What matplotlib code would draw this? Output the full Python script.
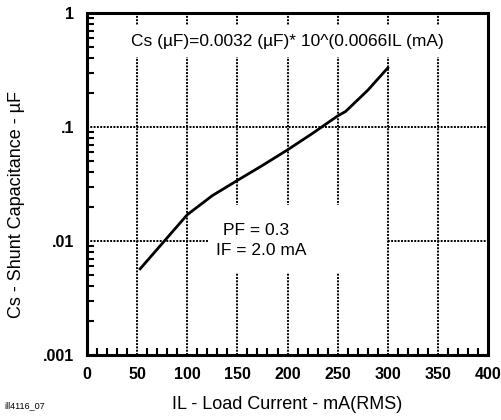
import numpy as np
import matplotlib
matplotlib.use("Agg")
import matplotlib.pyplot as plt
from matplotlib.patches import Rectangle
from matplotlib.ticker import FixedLocator, MultipleLocator, LogLocator, NullFormatter

plt.rcParams['font.family'] = ['Liberation Sans', 'DejaVu Sans']

# curve
load_ma = [53, 100, 125, 150, 175, 200, 225, 250, 258, 280, 300]
cs_uf = [0.0057, 0.017, 0.025, 0.034, 0.046, 0.063, 0.088, 0.125, 0.137, 0.21, 0.33]

x_ticks = [0, 50, 100, 150, 200, 250, 300, 350, 400]
y_ticks = [0.001, 0.01, 0.1, 1]
y_labels = [".001", ".01", ".1", "1"]

fig = plt.figure(figsize=(5.02, 4.2), dpi=100)
ax = fig.add_axes([0.1733, 0.1548, 0.799, 0.8143])

ax.set_yscale('log')
ax.set_xlim(0, 400)
ax.set_ylim(0.001, 1)

ax.grid(True, which='major', color='black', linestyle=(0, (1, 0.7)), linewidth=1.4)
ax.set_axisbelow(True)

# white masks behind the annotations, as in the original
ax.add_patch(Rectangle((0.10, 0.87), 0.78, 0.095, transform=ax.transAxes,
                       facecolor='white', edgecolor='none', zorder=1.5))
ax.add_patch(Rectangle((0.302, 0.24), 0.446, 0.2, transform=ax.transAxes,
                       facecolor='white', edgecolor='none', zorder=1.5))

ax.plot(load_ma, cs_uf, color='black', linewidth=2, zorder=3)

ax.xaxis.set_major_locator(FixedLocator(x_ticks))
ax.xaxis.set_minor_locator(MultipleLocator(10))
ax.set_xticklabels([str(v) for v in x_ticks], fontsize=11.5, fontweight='bold')
ax.yaxis.set_major_locator(FixedLocator(y_ticks))
ax.yaxis.set_minor_locator(LogLocator(base=10, subs=np.arange(2, 10)))
ax.yaxis.set_minor_formatter(NullFormatter())
ax.set_yticklabels(y_labels, fontsize=11.5, fontweight='bold')

ax.tick_params(which='both', direction='in', top=False, right=False, width=1.5)
ax.tick_params(which='major', length=0, pad=9)
ax.tick_params(which='minor', length=5)

for s in ax.spines.values():
    s.set_linewidth(2.2)

ax.set_xlabel("IL - Load Current - mA(RMS)", fontsize=13, labelpad=10)
ax.set_ylabel("Cs - Shunt Capacitance - µF", fontsize=13)
ax.yaxis.set_label_coords(-0.155, 0.44)

ax.text(0.5, 0.917, "Cs (µF)=0.0032 (µF)* 10^(0.0066IL (mA)", transform=ax.transAxes,
        ha='center', va='center', fontsize=12.5, zorder=4)
ax.text(0.34, 0.365, "PF = 0.3", transform=ax.transAxes, ha='left', va='center',
        fontsize=12.5, zorder=4)
ax.text(0.322, 0.305, "IF = 2.0 mA", transform=ax.transAxes, ha='left', va='center',
        fontsize=12.5, zorder=4)

fig.text(0.008, 0.035, "ill4116_07", fontsize=6.5, ha='left', va='center')

fig.savefig("out.png", dpi=100)
